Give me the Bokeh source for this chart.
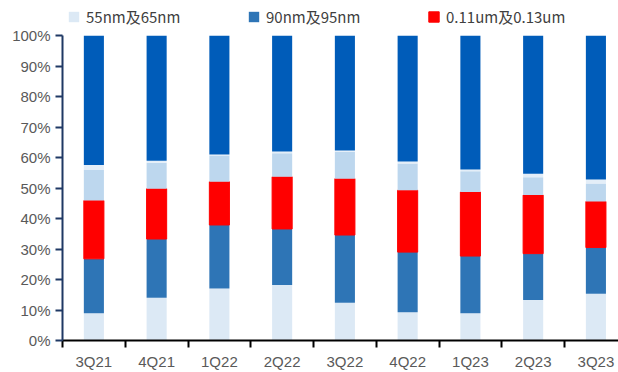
from bokeh.plotting import figure
from bokeh.models import ColumnDataSource, Range1d, FixedTicker, PrintfTickFormatter, Legend, LegendItem
from bokeh.embed import file_html
from bokeh.resources import INLINE

quarters = ["3Q21", "4Q21", "1Q22", "2Q22", "3Q22", "4Q22", "1Q23", "2Q23", "3Q23"]
nodes = ["55nm及65nm", "90nm及95nm", "0.11um及0.13um", "0.15um及0.18um", "0.25um", "0.35um及以上"]
s_55_65 = [8.9, 14.0, 17.1, 18.2, 12.4, 9.3, 8.9, 13.3, 15.3]
s_90_95 = [17.9, 19.3, 20.8, 18.4, 22.2, 19.7, 18.8, 15.2, 15.2]
s_011_013 = [19.1, 16.5, 14.2, 17.1, 18.5, 20.3, 21.0, 19.2, 15.1]
s_015_018 = [10.0, 8.5, 8.6, 7.7, 8.8, 8.8, 6.8, 5.9, 5.9]
s_025 = [1.7, 0.7, 0.3, 0.6, 0.4, 0.6, 0.6, 1.1, 1.3]
s_035 = [42.4, 41.0, 39.0, 38.0, 37.7, 41.3, 43.9, 45.3, 47.2]
y_ticks = [0, 10, 20, 30, 40, 50, 60, 70, 80, 90, 100]

colors = ["#dce9f5", "#2e75b6", "#ff0000", "#bdd7ee", "#e4eef8", "#005cb9"]
line_colors = [None, None, "#ff0000", None, None, None]
FONT = "Liberation Sans"
CJK_FONT = "Noto Sans CJK SC"

series = [s_55_65, s_90_95, s_011_013, s_015_018, s_025, s_035]
data = {"x": [i + 0.5 for i in range(len(quarters))]}
for name, vals in zip(nodes, series):
    data[name] = vals
source = ColumnDataSource(data)

# frame extends above 100% to leave room for the legend inside the frame
p = figure(width=618, height=372, output_backend="svg", toolbar_location=None,
           x_range=Range1d(0, 8.86), y_range=Range1d(0, 110.24),
           min_border_left=62, min_border_right=0, min_border_top=4, min_border_bottom=29)
p.outline_line_color = None
p.xgrid.grid_line_color = None
p.ygrid.grid_line_color = None

renderers = p.vbar_stack(nodes, x="x", width=0.32, source=source,
                         fill_color=colors, line_color=line_colors, line_width=1)

# x axis
xax = p.xaxis[0]
xax.ticker = FixedTicker(ticks=[i + 0.5 for i in range(len(quarters))],
                         minor_ticks=list(range(len(quarters) + 1)))
xax.major_label_overrides = {i + 0.5: q for i, q in enumerate(quarters)}
xax.major_tick_out = 0
xax.major_tick_in = 0
xax.minor_tick_out = 7
xax.minor_tick_in = 0
xax.minor_tick_line_color = "#000000"
xax.minor_tick_line_width = 2
xax.axis_line_color = "#000000"
xax.axis_line_width = 2
xax.major_label_standoff = 5
xax.major_label_text_font = FONT
xax.major_label_text_font_size = "15px"
xax.major_label_text_color = "#595959"

# y axis
yax = p.yaxis[0]
yax.bounds = (0, 100)
yax.ticker = FixedTicker(ticks=y_ticks)
yax.formatter = PrintfTickFormatter(format="%d%%")
yax.minor_tick_line_color = None
yax.major_tick_out = 7
yax.major_tick_in = 0
yax.major_tick_line_color = "#1f3864"
yax.major_tick_line_width = 2
yax.axis_line_color = "#1f3864"
yax.axis_line_width = 2
yax.major_label_standoff = 5
yax.major_label_text_font = FONT
yax.major_label_text_font_size = "15px"
yax.major_label_text_color = "#595959"

legend = Legend(items=[LegendItem(label=nodes[i], renderers=[renderers[i]]) for i in range(3)],
                orientation="horizontal", location=(5, 313),
                padding=0, margin=0, spacing=11,
                glyph_width=13, glyph_height=13, label_standoff=6,
                label_width=150, label_height=20,
                border_line_color=None, background_fill_alpha=0,
                label_text_font=CJK_FONT, label_text_font_size="15px",
                label_text_color="#404040")
p.add_layout(legend)

open("out.html", "w").write(file_html(p, INLINE))
